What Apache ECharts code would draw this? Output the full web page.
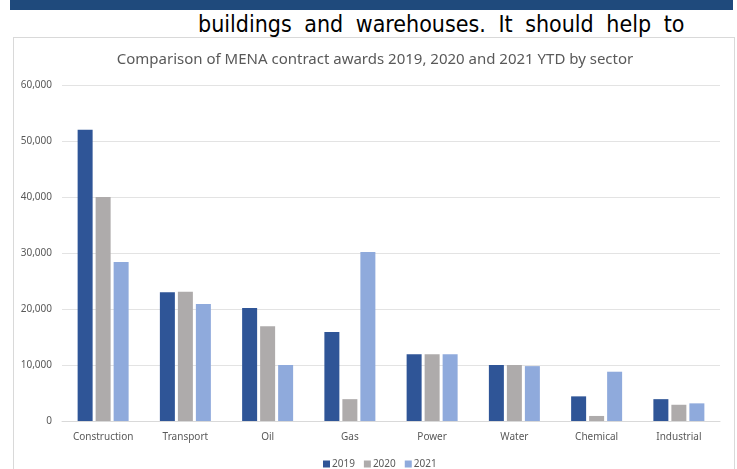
<!DOCTYPE html>
<html><head><meta charset="utf-8">
<script src="https://cdn.jsdelivr.net/npm/echarts@6/dist/echarts.min.js"></script>
<style>
html,body{margin:0;padding:0;background:#fff;width:737px;height:469px;overflow:hidden;}
#band{position:absolute;left:10px;top:0;width:723px;height:10px;background:#1F4A7C;}
#hdr{position:absolute;left:198px;top:12.5px;font-family:"DejaVu Sans Condensed","DejaVu Sans";font-size:23px;line-height:23px;color:#000;white-space:nowrap;word-spacing:6px;}
#frame{position:absolute;left:13px;top:37px;width:722px;height:440px;border:1px solid #d9d9d9;box-sizing:border-box;}
#chart{position:absolute;left:0;top:0;width:737px;height:469px;}
</style></head>
<body>
<div id="band"></div>
<div id="hdr">buildings and warehouses. It should help to</div>
<div id="frame"></div>
<div id="chart"></div>
<script>
const titleText = 'Comparison of MENA contract awards 2019, 2020 and 2021 YTD by sector';
const categories = ['Construction','Transport','Oil','Gas','Power','Water','Chemical','Industrial'];
const seriesNames = ['2019','2020','2021'];
const values2019 = [52000, 23000, 20200, 15900, 11900, 10000, 4400, 3900];
const values2020 = [40000, 23100, 16900, 3900, 11900, 10000, 900, 2900];
const values2021 = [28400, 20900, 10000, 30200, 11900, 9800, 8800, 3150];
const colors = ['#2F5597','#AEABAB','#8FAADC'];

const chart = echarts.init(document.getElementById('chart'), null, {renderer:'canvas'});
const font = '"Noto Sans", sans-serif';
const data = [values2019, values2020, values2021];
chart.setOption({
  animation:false,
  title:{text:titleText,left:370,textAlign:'center',top:47,
    textStyle:{fontFamily:font,fontSize:15,fontWeight:'normal',color:'#595959'}},
  legend:{top:454,left:318,itemWidth:7,itemHeight:7,itemGap:9,icon:'rect',
    textStyle:{fontFamily:font,fontSize:10,color:'#595959',padding:[0,0,0,-3]}},
  grid:{left:62,right:17,top:85,bottom:48},
  xAxis:{type:'category',data:categories,
    axisLine:{lineStyle:{color:'#d9d9d9'}},axisTick:{show:false},
    axisLabel:{fontFamily:font,fontSize:10,color:'#595959',margin:11}},
  yAxis:{type:'value',min:0,max:60000,interval:10000,
    axisLine:{show:false},axisTick:{show:false},
    splitLine:{lineStyle:{color:'#e3e3e3'}},
    axisLabel:{fontFamily:font,fontSize:10,color:'#595959',margin:10,
      formatter:v=>v.toLocaleString('en-US')}},
  series: seriesNames.map((n,i)=>({name:n,type:'bar',data:data[i],barWidth:15,barGap:'20%',
    itemStyle:{color:colors[i]}}))
});
</script>
</body></html>
